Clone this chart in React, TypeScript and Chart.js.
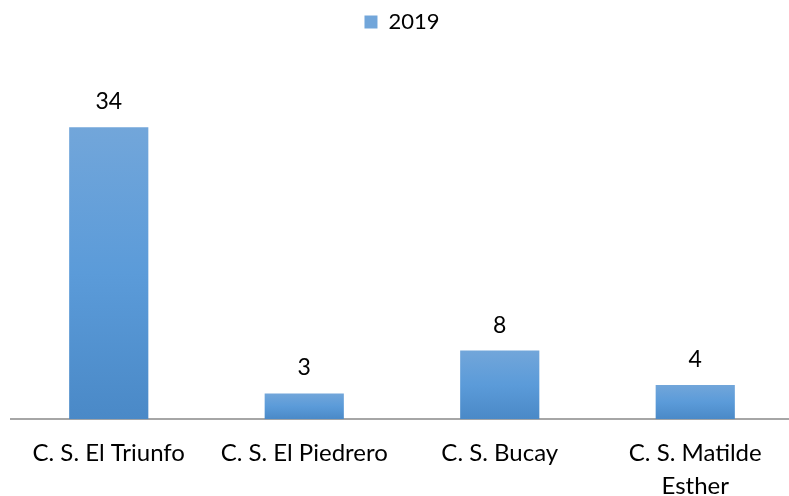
import React, { useEffect, useRef } from "react";
import { Chart, registerables } from "chart.js";

Chart.register(...registerables);

const categories: (string | string[])[] = [
  "C. S. El Triunfo",
  "C. S. El Piedrero",
  "C. S. Bucay",
  ["C. S. Matilde", "Esther"],
];
const seriesLabel = "2019";
const values = [34, 3, 8, 4];

const FONT = "Lato, 'Open Sans', sans-serif";

const valueLabels = {
  id: "valueLabels",
  afterDatasetsDraw(chart: any) {
    const ctx = chart.ctx;
    const meta = chart.getDatasetMeta(0);
    ctx.save();
    ctx.fillStyle = "#000000";
    ctx.font = `23px ${FONT}`;
    ctx.textAlign = "center";
    ctx.textBaseline = "alphabetic";
    meta.data.forEach((bar: any, i: number) => {
      ctx.fillText(String(values[i]), bar.x, bar.y - 18);
    });
    ctx.restore();
  },
};

export default function App() {
  const ref = useRef<HTMLCanvasElement>(null);
  useEffect(() => {
    if (!ref.current) return;
    const chart = new Chart(ref.current, {
      type: "bar",
      data: {
        labels: categories,
        datasets: [
          {
            label: seriesLabel,
            data: values,
            backgroundColor: (c: any) => {
              const ch = c.chart;
              const y = ch.scales?.y;
              if (!y || c.type !== "data") return "#5b9bd5";
              const top = y.getPixelForValue(c.raw);
              const bottom = y.getPixelForValue(0);
              if (!isFinite(top) || !isFinite(bottom) || top === bottom) return "#5b9bd5";
              const g = ch.ctx.createLinearGradient(0, top, 0, bottom);
              g.addColorStop(0, "#72a6da");
              g.addColorStop(0.5, "#5b9bd9");
              g.addColorStop(1, "#4a89c7");
              return g;
            },
            borderWidth: 0,
            categoryPercentage: 1,
            barPercentage: 0.405,
          },
        ],
      },
      options: {
        animation: false,
        responsive: true,
        maintainAspectRatio: false,
        layout: { padding: { left: 11, right: 7, top: 0, bottom: -17 } },
        plugins: {
          legend: {
            display: true,
            position: "top",
            labels: {
              font: { family: FONT, size: 22 },
              color: "#000000",
              boxWidth: 13,
              boxHeight: 13,
              padding: 11,
            },
          },
          tooltip: { enabled: false },
          title: { display: false },
        },
        scales: {
          x: {
            grid: { display: false },
            border: { display: true, color: "#a6a6a6", width: 2 },
            ticks: {
              font: { family: FONT, size: 24, lineHeight: 1.37 },
              color: "#000000",
              maxRotation: 0,
              autoSkip: false,
              padding: 10,
            },
          },
          y: {
            display: false,
            min: 0,
            max: 43.8,
          },
        },
      },
      plugins: [valueLabels],
    });
    return () => chart.destroy();
  }, []);
  return (
    <div style={{ position: "fixed", left: 0, top: 0, width: 789, height: 496, overflow: "hidden", background: "#ffffff" }}>
      <div style={{ position: "absolute", left: 0, top: 0, width: 800, height: 496 }}>
        <canvas ref={ref} />
      </div>
    </div>
  );
}
